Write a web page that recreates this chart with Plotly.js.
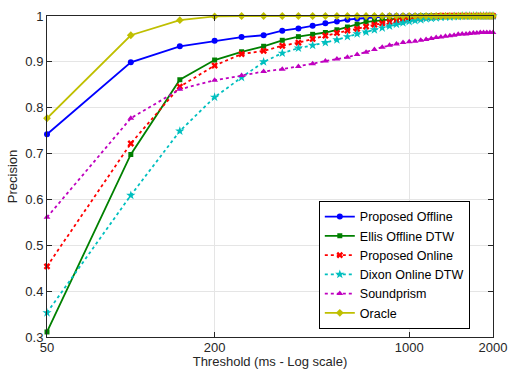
<!DOCTYPE html>
<html>
<head>
<meta charset="utf-8">
<script src="https://cdn.plot.ly/plotly-3.0.1.min.js"></script>
<style>
html,body{margin:0;padding:0;background:#fff;}
#chart{width:508px;height:369px;}
</style>
</head>
<body>
<div id="chart"></div>
<script>
const thresholds = [50,100,150,200,250,300,350,400,450,500,550,600,650,700,750,800,850,900,950,1000,
  1050,1100,1150,1200,1250,1300,1350,1400,1450,1500,1550,1600,1650,1700,1750,1800,1850,1900,1950,2000];

const proposedOffline = [0.742,0.899,0.934,0.946,0.954,0.958,0.968,0.973,0.979,0.984,0.988,0.992,0.994,0.996,0.998,0.999,1,1,1,1,
  1,1,1,1,1,1,1,1,1,1,1,1,1,1,1,1,1,1,1,1];
const ellisOffline = [0.311,0.698,0.861,0.904,0.922,0.934,0.947,0.955,0.960,0.964,0.970,0.976,0.982,0.987,0.989,0.991,0.993,0.995,0.997,0.998,
  0.999,1,1,1,1,1,1,1,1,1,1,1,1,1,1,1,1,1,1,1];
const proposedOnline = [0.454,0.722,0.846,0.892,0.917,0.924,0.935,0.942,0.950,0.957,0.963,0.968,0.972,0.977,0.981,0.984,0.987,0.990,0.992,0.993,
  0.995,0.996,0.997,0.998,0.999,1,1,1,1,1,1,1,1,1,1,1,1,1,1,1];
const dixonOnline = [0.353,0.609,0.749,0.823,0.866,0.900,0.919,0.930,0.936,0.942,0.948,0.955,0.961,0.965,0.970,0.974,0.978,0.982,0.985,0.988,
  0.990,0.992,0.994,0.995,0.996,0.997,0.998,0.998,0.999,0.999,1,1,1,1,1,1,1,1,1,1];
const soundprism = [0.561,0.777,0.840,0.860,0.870,0.879,0.884,0.890,0.896,0.902,0.906,0.910,0.916,0.921,0.927,0.932,0.936,0.939,0.942,0.944,
  0.945,0.947,0.949,0.951,0.953,0.954,0.956,0.957,0.958,0.960,0.961,0.961,0.962,0.963,0.963,0.964,0.964,0.964,0.964,0.964];
const oracle = [0.777,0.958,0.991,0.999,1,1,1,1,1,1,1,1,1,1,1,1,1,1,1,1,
  1,1,1,1,1,1,1,1,1,1,1,1,1,1,1,1,1,1,1,1];

const seriesNames = ['Proposed Offline','Ellis Offline DTW','Proposed Online','Dixon Online DTW','Soundprism','Oracle'];
const xTickVals = [50,200,1000,2000];
const xTickText = ['50','200','1000','2000'];
const yTickVals = [0.3,0.4,0.5,0.6,0.7,0.8,0.9,1];
const yTickText = ['0.3','0.4','0.5','0.6','0.7','0.8','0.9','1'];

const seriesData = [proposedOffline, ellisOffline, proposedOnline, dixonOnline, soundprism, oracle];
const styles = [
  {color:'#0000ff', dash:'solid', symbol:'circle', size:6},
  {color:'#008000', dash:'solid', symbol:'square', size:5},
  {color:'#ff0000', dash:'dot', symbol:'x', size:6},
  {color:'#00bfbf', dash:'dot', symbol:'star', size:7},
  {color:'#bf00bf', dash:'dot', symbol:'triangle-up', size:6},
  {color:'#bfbf00', dash:'solid', symbol:'diamond', size:6}
];

const traces = seriesData.map((ys, i) => ({
  x: thresholds,
  y: ys,
  name: seriesNames[i],
  type: 'scatter',
  mode: 'lines+markers',
  cliponaxis: false,
  line: {color: styles[i].color, width: 1.8, dash: styles[i].dash},
  marker: {color: styles[i].color, symbol: styles[i].symbol, size: styles[i].size,
           line: {width: 0}}
}));

const layout = {
  width: 508, height: 369,
  margin: {l: 47, r: 15, t: 16, b: 32},
  paper_bgcolor: '#fff', plot_bgcolor: '#fff',
  font: {family: 'Liberation Sans, Arial, sans-serif', size: 13, color: '#262626'},
  showlegend: true,
  legend: {
    x: 0.948, y: 0.025, xanchor: 'right', yanchor: 'bottom',
    bgcolor: '#fff', bordercolor: '#000', borderwidth: 1,
    font: {family: 'Liberation Sans, Arial, sans-serif', size: 12.5, color: '#000'},
    tracegroupgap: 0, itemwidth: 30
  },
  xaxis: {
    type: 'log',
    range: [1.69896, 3.30104],
    tickvals: xTickVals, ticktext: xTickText,
    ticks: 'inside', ticklen: 5, tickcolor: '#262626',
    ticklabelstandoff: -2,
    showline: true, linecolor: '#262626', linewidth: 1, mirror: 'ticks',
    showgrid: true, gridcolor: '#e5e5e5', gridwidth: 1,
    zeroline: false,
    title: {text: 'Threshold (ms - Log scale)', standoff: 4, font: {size: 13}},
    tickfont: {size: 13}
  },
  yaxis: {
    range: [0.3, 1],
    tickvals: yTickVals, ticktext: yTickText,
    ticks: 'inside', ticklen: 5, tickcolor: '#262626',
    ticklabelstandoff: 0,
    showline: true, linecolor: '#262626', linewidth: 1, mirror: 'ticks',
    showgrid: true, gridcolor: '#e5e5e5', gridwidth: 1,
    zeroline: false,
    title: {text: 'Precision', standoff: 4, font: {size: 13}},
    tickfont: {size: 13}
  }
};

Plotly.newPlot('chart', traces, layout, {displayModeBar: false, staticPlot: true});
</script>
</body>
</html>
